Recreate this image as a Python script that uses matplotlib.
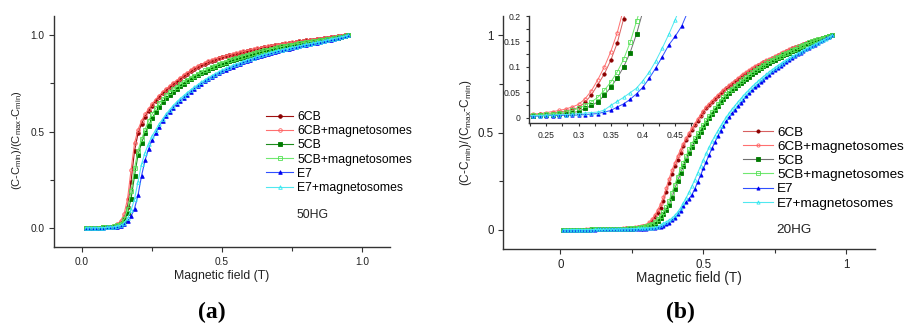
import matplotlib
matplotlib.use('Agg')
import matplotlib.pyplot as plt
from matplotlib.ticker import MultipleLocator, FixedLocator

plt.rcParams['font.family'] = ['Liberation Sans', 'DejaVu Sans']
plt.rcParams['mathtext.default'] = 'regular'

# ---------------- data: panel (a) 50HG ----------------
field_a = [0.0125, 0.025, 0.0375, 0.05, 0.0625, 0.075, 0.0875, 0.1, 0.1125, 0.125,
           0.1375, 0.15, 0.1625, 0.175, 0.1875, 0.2, 0.2125, 0.225, 0.2375, 0.25,
           0.2625, 0.275, 0.2875, 0.3, 0.3125, 0.325, 0.3375, 0.35, 0.3625, 0.375,
           0.3875, 0.4, 0.4125, 0.425, 0.4375, 0.45, 0.4625, 0.475, 0.4875, 0.5,
           0.5125, 0.525, 0.5375, 0.55, 0.5625, 0.575, 0.5875, 0.6, 0.6125, 0.625,
           0.6375, 0.65, 0.6625, 0.675, 0.6875, 0.7, 0.7125, 0.725, 0.7375, 0.75,
           0.7625, 0.775, 0.7875, 0.8, 0.8125, 0.825, 0.8375, 0.85, 0.8625, 0.875,
           0.8875, 0.9, 0.9125, 0.925, 0.9375, 0.95]

a_6cb = [0, 0, 0, 0, 0.001, 0.002, 0.003, 0.005,
         0.008, 0.013, 0.025, 0.05, 0.11, 0.24, 0.40, 0.49, 0.54, 0.578,
         0.608, 0.635, 0.658, 0.68, 0.698, 0.715, 0.730, 0.745, 0.759, 0.773,
         0.787, 0.80, 0.813, 0.825, 0.834, 0.843, 0.852, 0.860, 0.867, 0.874,
         0.880, 0.885, 0.890, 0.895, 0.900, 0.904, 0.909, 0.913, 0.918, 0.922,
         0.926, 0.930, 0.934, 0.938, 0.941, 0.945, 0.948, 0.951, 0.954, 0.957,
         0.959, 0.962, 0.965, 0.968, 0.970, 0.973, 0.975, 0.978, 0.981, 0.983,
         0.986, 0.988, 0.991, 0.993, 0.995, 0.997, 0.999, 1.0]
a_6cb_m = [0, 0, 0, 0, 0.001, 0.002, 0.004, 0.006,
           0.01, 0.017, 0.035, 0.07, 0.15, 0.30, 0.44, 0.51, 0.555, 0.59,
           0.618, 0.643, 0.666, 0.687, 0.705, 0.721, 0.736, 0.751, 0.765, 0.779,
           0.792, 0.805, 0.817, 0.829, 0.839, 0.848, 0.856, 0.864, 0.871, 0.877,
           0.883, 0.888, 0.893, 0.898, 0.903, 0.907, 0.912, 0.916, 0.920, 0.924,
           0.928, 0.932, 0.936, 0.940, 0.943, 0.946, 0.949, 0.952, 0.955, 0.958,
           0.960, 0.963, 0.966, 0.968, 0.971, 0.973, 0.976, 0.978, 0.981, 0.983,
           0.986, 0.988, 0.991, 0.993, 0.995, 0.997, 0.999, 1.0]
a_5cb = [0, 0, 0, 0, 0.001, 0.002, 0.003, 0.004,
         0.006, 0.01, 0.018, 0.035, 0.075, 0.15, 0.27, 0.38, 0.44, 0.49,
         0.53, 0.568, 0.60, 0.628, 0.652, 0.673, 0.691, 0.707, 0.722, 0.736,
         0.749, 0.761, 0.772, 0.783, 0.793, 0.802, 0.811, 0.820, 0.828, 0.836,
         0.844, 0.851, 0.858, 0.865, 0.871, 0.877, 0.883, 0.889, 0.894, 0.899,
         0.904, 0.909, 0.914, 0.918, 0.922, 0.926, 0.930, 0.934, 0.938, 0.942,
         0.946, 0.949, 0.952, 0.955, 0.958, 0.961, 0.964, 0.967, 0.970, 0.973,
         0.976, 0.979, 0.982, 0.985, 0.988, 0.992, 0.996, 1.0]
a_5cb_m = [0, 0, 0, 0, 0.001, 0.002, 0.003, 0.005,
           0.008, 0.012, 0.022, 0.045, 0.095, 0.19, 0.31, 0.40, 0.46, 0.51,
           0.555, 0.59, 0.62, 0.646, 0.668, 0.688, 0.705, 0.719, 0.732, 0.745,
           0.757, 0.768, 0.779, 0.79, 0.799, 0.808, 0.817, 0.826, 0.834, 0.842,
           0.850, 0.857, 0.863, 0.870, 0.876, 0.882, 0.887, 0.893, 0.898, 0.903,
           0.908, 0.913, 0.917, 0.922, 0.926, 0.930, 0.934, 0.938, 0.942, 0.945,
           0.949, 0.952, 0.955, 0.958, 0.961, 0.964, 0.967, 0.969, 0.972, 0.975,
           0.978, 0.980, 0.983, 0.986, 0.989, 0.993, 0.996, 1.0]
a_e7 = [0, 0, 0, 0, 0, 0.001, 0.002, 0.003,
        0.004, 0.006, 0.01, 0.018, 0.035, 0.06, 0.10, 0.17, 0.27, 0.35,
        0.41, 0.455, 0.492, 0.525, 0.555, 0.58, 0.603, 0.624, 0.643, 0.66,
        0.676, 0.692, 0.707, 0.722, 0.735, 0.748, 0.760, 0.772, 0.783, 0.793,
        0.803, 0.812, 0.821, 0.829, 0.837, 0.845, 0.852, 0.859, 0.866, 0.873,
        0.880, 0.886, 0.892, 0.898, 0.903, 0.908, 0.913, 0.918, 0.922, 0.927,
        0.931, 0.935, 0.939, 0.943, 0.947, 0.951, 0.955, 0.959, 0.962, 0.966,
        0.970, 0.974, 0.978, 0.982, 0.986, 0.990, 0.995, 1.0]
a_e7_m = [0, 0, 0, 0, 0.001, 0.001, 0.002, 0.004,
          0.005, 0.008, 0.013, 0.025, 0.05, 0.09, 0.15, 0.24, 0.33, 0.39,
          0.437, 0.475, 0.508, 0.538, 0.565, 0.59, 0.613, 0.634, 0.653, 0.670,
          0.686, 0.701, 0.716, 0.730, 0.743, 0.756, 0.768, 0.779, 0.790, 0.800,
          0.810, 0.819, 0.828, 0.836, 0.844, 0.851, 0.858, 0.865, 0.872, 0.878,
          0.884, 0.890, 0.896, 0.901, 0.906, 0.911, 0.916, 0.921, 0.925, 0.929,
          0.933, 0.937, 0.941, 0.945, 0.949, 0.953, 0.956, 0.960, 0.963, 0.967,
          0.971, 0.975, 0.979, 0.983, 0.987, 0.991, 0.995, 1.0]

# ---------------- data: panel (b) 20HG ----------------
field_b = [0.01, 0.02, 0.03, 0.04, 0.05, 0.06, 0.07, 0.08, 0.09, 0.10,
           0.11, 0.12, 0.13, 0.14, 0.15, 0.16, 0.17, 0.18, 0.19, 0.20,
           0.21, 0.22, 0.23, 0.24, 0.25, 0.26, 0.27, 0.28, 0.29, 0.30,
           0.31, 0.32, 0.33, 0.34, 0.35, 0.36, 0.37, 0.38, 0.39, 0.40,
           0.41, 0.42, 0.43, 0.44, 0.45, 0.46, 0.47, 0.48, 0.49, 0.50,
           0.51, 0.52, 0.53, 0.54, 0.55, 0.56, 0.57, 0.58, 0.59, 0.60,
           0.61, 0.62, 0.63, 0.64, 0.65, 0.66, 0.67, 0.68, 0.69, 0.70,
           0.71, 0.72, 0.73, 0.74, 0.75, 0.76, 0.77, 0.78, 0.79, 0.80,
           0.81, 0.82, 0.83, 0.84, 0.85, 0.86, 0.87, 0.88, 0.89, 0.90,
           0.91, 0.92, 0.93, 0.94, 0.95]

b_6cb = [0, 0, 0, 0, 0, 0, 0, 0, 0, 0,
         0.001, 0.001, 0.001, 0.002, 0.002, 0.002, 0.003, 0.003, 0.003, 0.004,
         0.004, 0.005, 0.006, 0.007, 0.008, 0.009, 0.011, 0.013, 0.016, 0.02,
         0.03, 0.045, 0.065, 0.086, 0.113, 0.147, 0.195, 0.24, 0.285, 0.325,
         0.36, 0.395, 0.43, 0.46, 0.487, 0.512, 0.537, 0.56, 0.583, 0.605,
         0.627, 0.643, 0.658, 0.673, 0.688, 0.702, 0.715, 0.727, 0.739, 0.751,
         0.763, 0.775, 0.786, 0.797, 0.808, 0.818, 0.828, 0.838, 0.846, 0.854,
         0.861, 0.869, 0.876, 0.883, 0.890, 0.897, 0.905, 0.912, 0.920, 0.927,
         0.933, 0.939, 0.945, 0.951, 0.957, 0.962, 0.967, 0.972, 0.976, 0.980,
         0.984, 0.988, 0.992, 0.996, 1.0]
b_6cb_m = [0, 0, 0, 0, 0, 0, 0, 0, 0.001, 0.001,
           0.001, 0.001, 0.002, 0.002, 0.002, 0.003, 0.003, 0.003, 0.004, 0.004,
           0.005, 0.006, 0.007, 0.008, 0.01, 0.012, 0.014, 0.017, 0.021, 0.026,
           0.037, 0.053, 0.075, 0.10, 0.13, 0.167, 0.215, 0.262, 0.305, 0.343,
           0.378, 0.412, 0.443, 0.472, 0.498, 0.522, 0.546, 0.569, 0.591, 0.612,
           0.632, 0.648, 0.663, 0.678, 0.692, 0.706, 0.719, 0.731, 0.743, 0.755,
           0.767, 0.779, 0.790, 0.801, 0.811, 0.821, 0.831, 0.841, 0.849, 0.857,
           0.864, 0.872, 0.879, 0.886, 0.893, 0.900, 0.907, 0.914, 0.922, 0.929,
           0.935, 0.941, 0.947, 0.953, 0.958, 0.963, 0.968, 0.973, 0.977, 0.981,
           0.985, 0.989, 0.993, 0.996, 1.0]
b_5cb = [0, 0, 0, 0, 0, 0, 0, 0, 0, 0,
         0.001, 0.001, 0.001, 0.001, 0.002, 0.002, 0.002, 0.002, 0.003, 0.003,
         0.003, 0.004, 0.004, 0.005, 0.005, 0.006, 0.007, 0.008, 0.010, 0.012,
         0.018, 0.024, 0.031, 0.044, 0.06, 0.078, 0.10, 0.128, 0.165, 0.21,
         0.25, 0.29, 0.325, 0.36, 0.395, 0.427, 0.455, 0.48, 0.504, 0.527,
         0.551, 0.574, 0.596, 0.617, 0.636, 0.655, 0.673, 0.689, 0.704, 0.718,
         0.731, 0.743, 0.755, 0.766, 0.777, 0.788, 0.799, 0.810, 0.821, 0.832,
         0.841, 0.850, 0.859, 0.867, 0.875, 0.883, 0.890, 0.897, 0.904, 0.911,
         0.918, 0.925, 0.932, 0.939, 0.946, 0.954, 0.960, 0.966, 0.972, 0.977,
         0.982, 0.986, 0.990, 0.995, 1.0]
b_5cb_m = [0, 0, 0, 0, 0, 0, 0, 0, 0, 0,
           0.001, 0.001, 0.001, 0.002, 0.002, 0.002, 0.002, 0.003, 0.003, 0.003,
           0.004, 0.005, 0.005, 0.006, 0.007, 0.008, 0.009, 0.011, 0.014, 0.018,
           0.024, 0.031, 0.040, 0.054, 0.07, 0.09, 0.115, 0.148, 0.19, 0.232,
           0.272, 0.31, 0.345, 0.38, 0.413, 0.443, 0.47, 0.495, 0.518, 0.541,
           0.564, 0.586, 0.607, 0.627, 0.646, 0.664, 0.681, 0.697, 0.712, 0.726,
           0.739, 0.751, 0.763, 0.775, 0.787, 0.799, 0.810, 0.821, 0.831, 0.840,
           0.849, 0.858, 0.866, 0.874, 0.882, 0.889, 0.896, 0.903, 0.910, 0.917,
           0.924, 0.931, 0.938, 0.945, 0.952, 0.958, 0.964, 0.970, 0.975, 0.980,
           0.984, 0.988, 0.992, 0.996, 1.0]
b_e7 = [0, 0, 0, 0, 0, 0, 0, 0, 0, 0,
        0, 0, 0.001, 0.001, 0.001, 0.001, 0.001, 0.002, 0.002, 0.002,
        0.002, 0.003, 0.003, 0.003, 0.004, 0.004, 0.004, 0.005, 0.005, 0.005,
        0.006, 0.007, 0.008, 0.011, 0.014, 0.021, 0.027, 0.036, 0.047, 0.060,
        0.078, 0.098, 0.12, 0.143, 0.16, 0.18, 0.21, 0.245, 0.28, 0.315,
        0.35, 0.385, 0.418, 0.45, 0.48, 0.51, 0.535, 0.557, 0.578, 0.598,
        0.617, 0.635, 0.653, 0.67, 0.687, 0.703, 0.718, 0.733, 0.747, 0.76,
        0.773, 0.786, 0.798, 0.81, 0.822, 0.833, 0.844, 0.855, 0.865, 0.875,
        0.884, 0.893, 0.902, 0.911, 0.919, 0.928, 0.937, 0.945, 0.953, 0.961,
        0.969, 0.977, 0.985, 0.992, 1.0]
b_e7_m = [0, 0, 0, 0, 0, 0, 0, 0, 0, 0,
          0, 0.001, 0.001, 0.001, 0.001, 0.002, 0.002, 0.002, 0.002, 0.003,
          0.003, 0.004, 0.004, 0.004, 0.005, 0.005, 0.006, 0.006, 0.007, 0.008,
          0.009, 0.01, 0.011, 0.015, 0.024, 0.032, 0.04, 0.049, 0.058, 0.073,
          0.09, 0.112, 0.137, 0.164, 0.193, 0.225, 0.258, 0.292, 0.326, 0.36,
          0.393, 0.424, 0.454, 0.482, 0.508, 0.533, 0.556, 0.578, 0.599, 0.619,
          0.638, 0.656, 0.673, 0.69, 0.706, 0.721, 0.736, 0.75, 0.763, 0.776,
          0.788, 0.80, 0.812, 0.823, 0.834, 0.845, 0.855, 0.865, 0.874, 0.883,
          0.892, 0.90, 0.908, 0.916, 0.924, 0.932, 0.94, 0.948, 0.955, 0.962,
          0.969, 0.976, 0.984, 0.992, 1.0]

labels = ['6CB', '6CB+magnetosomes', '5CB', '5CB+magnetosomes', 'E7', 'E7+magnetosomes']
series_a = [a_6cb, a_6cb_m, a_5cb, a_5cb_m, a_e7, a_e7_m]
series_b = [b_6cb, b_6cb_m, b_5cb, b_5cb_m, b_e7, b_e7_m]

for s in series_a:
    assert len(s) == len(field_a), len(s)
for s in series_b:
    assert len(s) == len(field_b), len(s)

# style per series: (marker color, line color a, line color b, marker, filled)
styles = [
    ('#8B0000', '#A01010', '#D86060', 'o', True),
    ('#FF6060', '#FF7070', '#FF7070', 'o', False),
    ('#007A00', '#1E8C1E', '#707070', 's', True),
    ('#55E055', '#70E870', '#70E870', 's', False),
    ('#0000F0', '#3050FF', '#3050FF', '^', True),
    ('#30E8F0', '#50E8F0', '#50E8F0', '^', False),
]

AX_COL = '#333333'

def style_axis(ax, lblsize, ticklen=3.5):
    for sp in ['top', 'right']:
        ax.spines[sp].set_visible(False)
    for sp in ['left', 'bottom']:
        ax.spines[sp].set_linewidth(1.0)
        ax.spines[sp].set_color(AX_COL)
    ax.tick_params(which='both', direction='out', color=AX_COL, width=0.8,
                   labelsize=lblsize, labelcolor='#222222')
    ax.tick_params(which='major', length=ticklen)
    ax.tick_params(which='minor', length=ticklen * 0.8)


fig = plt.figure(figsize=(9.05, 3.27), dpi=100)
axA = fig.add_axes([0.0597, 0.2446, 0.3713, 0.7064])
axB = fig.add_axes([0.5561, 0.2385, 0.4107, 0.7125])
axI = fig.add_axes([0.5845, 0.6248, 0.1801, 0.3262])

# panel (a)
for y, lab, st in zip(series_a, labels, styles):
    mc, lca, lcb, mk, filled = st
    axA.plot(field_a, y, color=lca, lw=0.8, marker=mk, ms=2.6,
             mfc=mc if filled else 'none', mec=mc, mew=0.6, label=lab)
axA.set_xlim(-0.1, 1.1)
axA.set_ylim(-0.1, 1.1)
axA.xaxis.set_major_locator(FixedLocator([0.0, 0.5, 1.0]))
axA.xaxis.set_minor_locator(FixedLocator([0.25, 0.75]))
axA.yaxis.set_major_locator(FixedLocator([0.0, 0.5, 1.0]))
axA.yaxis.set_minor_locator(FixedLocator([0.25, 0.75]))
axA.set_xticklabels(['0.0', '0.5', '1.0'])
axA.set_yticklabels(['0.0', '0.5', '1.0'])
style_axis(axA, 7.3)
axA.legend(loc='upper left', bbox_to_anchor=(0.631, 0.589), frameon=False,
           fontsize=8.8, handlelength=2.2, handletextpad=0.35, labelspacing=0.18,
           borderpad=0, borderaxespad=0, numpoints=1)
axA.text(0.765, 0.068, '50HG', fontsize=8.8, va='center', ha='left', color='#222222')
axA.text(0.5, -0.125, 'Magnetic field (T)', transform=axA.transAxes,
         ha='center', va='center', fontsize=8.85, color='#222222')
axA.text(-0.110, 0.463, r'(C-C$_{min}$)/(C$_{max}$-C$_{min}$)', transform=axA.transAxes,
         ha='center', va='center', rotation=90, fontsize=8.0, color='#222222')

# panel (b)
for y, lab, st in zip(series_b, labels, styles):
    mc, lca, lcb, mk, filled = st
    axB.plot(field_b, y, color=lcb, lw=0.8, marker=mk, ms=2.3,
             mfc=mc if filled else 'none', mec=mc, mew=0.6, label=lab)
axB.set_xlim(-0.2, 1.1)
axB.set_ylim(-0.1, 1.1)
axB.xaxis.set_major_locator(FixedLocator([0.0, 0.5, 1.0]))
axB.xaxis.set_minor_locator(FixedLocator([0.25, 0.75]))
axB.yaxis.set_major_locator(FixedLocator([0.0, 0.5, 1.0]))
axB.yaxis.set_minor_locator(FixedLocator([0.25, 0.75]))
axB.set_xticklabels(['0', '0.5', '1'])
axB.set_yticklabels(['0', '0.5', '1'])
style_axis(axB, 8.3)
axB.legend(loc='upper left', bbox_to_anchor=(0.645, 0.527), frameon=False,
           fontsize=9.7, handlelength=2.2, handletextpad=0.35, labelspacing=0.13,
           borderpad=0, borderaxespad=0, numpoints=1)
axB.text(0.755, 0.0, '20HG', fontsize=9.7, va='center', ha='left', color='#222222')
axB.text(0.5, -0.124, 'Magnetic field (T)', transform=axB.transAxes,
         ha='center', va='center', fontsize=9.8, color='#222222')
axB.text(-0.100, 0.498, r'(C-C$_{min}$)/(C$_{max}$-C$_{min}$)', transform=axB.transAxes,
         ha='center', va='center', rotation=90, fontsize=8.6, color='#222222')

# inset of panel (b)
axI.set_facecolor('white')
for y, lab, st in zip(series_b, labels, styles):
    mc, lca, lcb, mk, filled = st
    axI.plot(field_b, y, color=lcb, lw=0.7, marker=mk, ms=2.4,
             mfc=mc if filled else 'none', mec=mc, mew=0.6)
axI.set_xlim(0.223, 0.476)
axI.set_ylim(-0.01, 0.2)
axI.set_xticks([0.25, 0.3, 0.35, 0.4, 0.45])
axI.set_xticklabels(['0.25', '0.3', '0.35', '0.4', '0.45'])
axI.set_yticks([0, 0.05, 0.1, 0.15, 0.2])
axI.set_yticklabels(['0', '0.05', '0.1', '0.15', '0.2'])
axI.xaxis.set_minor_locator(MultipleLocator(0.025))
axI.yaxis.set_minor_locator(MultipleLocator(0.025))
style_axis(axI, 6.2, ticklen=2.5)

# panel labels
fig.text(0.234, 0.043, '(a)', family=['Liberation Serif', 'DejaVu Serif'],
         weight='bold', fontsize=17, ha='center', va='center')
fig.text(0.752, 0.043, '(b)', family=['Liberation Serif', 'DejaVu Serif'],
         weight='bold', fontsize=17, ha='center', va='center')

fig.savefig('out.png', dpi=100)
